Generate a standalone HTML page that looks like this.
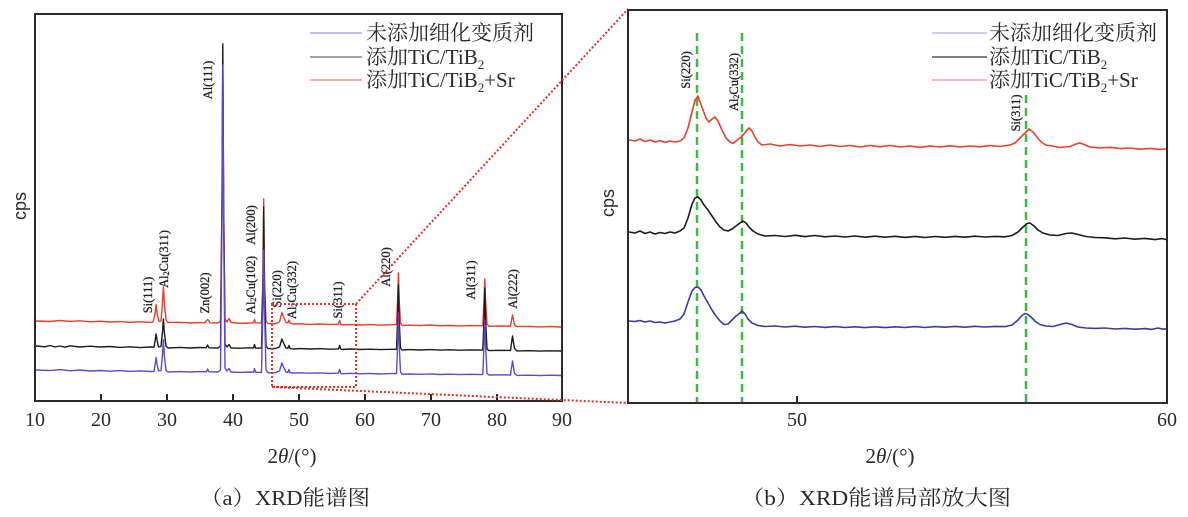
<!DOCTYPE html>
<html>
<head>
<meta charset="utf-8">
<style>
html,body{margin:0;padding:0;background:#fff;}
svg{display:block;}
</style>
</head>
<body>
<svg width="1188" height="517" viewBox="0 0 1188 517" xmlns="http://www.w3.org/2000/svg">
<rect x="0" y="0" width="1188" height="517" fill="#fff"/>

<!-- ================= LEFT PLOT ================= -->
<g fill="none" stroke-linejoin="round" stroke-linecap="round">
<!-- red -->
<path stroke="#ee3b2b" stroke-width="1.4" d="M36,321 L50,321.5 L60,320.5 L70,321.4 L80,320.8 L90,321.8 L100,321.2 L110,322 L120,321.6 L130,322.3 L140,321.8 L150,322.4 L153,322 L155,314 L156.1,304.5 L157.2,314 L159,321.5 L161,321 L162.3,305 L163.4,287 L164.5,305 L166,320 L168,322.5 L180,322.3 L190,323 L200,322.6 L205,322.8 L206.5,320.5 L207.6,319.5 L208.7,320.5 L210,322.8 L218,323 L220.5,321 L222,200 L222.8,57 L223.6,200 L225,319 L227,322 L229,318.5 L231,322.5 L240,323.3 L250,323 L253.5,322.8 L254.5,319.5 L255.5,322.8 L261.5,323 L262.9,280 L263.7,199 L264.5,280 L266,321 L268,323.5 L275,323.8 L279.5,322 L281.9,312.5 L284,318 L286,322.5 L287.8,323 L288.9,320 L290,323 L293,324 L300,323.8 L310,324.4 L320,324 L330,324.6 L338.5,324.2 L339.6,320.5 L340.7,324.2 L342,325 L350,324.6 L360,325 L370,324.6 L380,325.2 L390,324.8 L396.5,324.5 L397.6,300 L398.4,273 L399.2,300 L400.5,323 L402,325.5 L410,325.2 L420,325.6 L430,325 L440,325.8 L450,325.5 L460,325.9 L470,325.6 L482.8,325.8 L484,300 L484.8,279 L485.6,300 L487,324 L489,326.3 L500,326 L510.5,326.2 L512.5,315 L514.5,325 L517,326.6 L530,326.4 L540,326.9 L550,326.5 L561,327"/>
<!-- black -->
<path stroke="#1c1c1c" stroke-width="1.4" d="M36,346 L45,346.8 L50,345.5 L55,347 L60,346 L65,347.2 L70,345.8 L80,347 L90,346.2 L100,347 L110,346.5 L120,347.4 L130,346.8 L140,347.6 L150,347 L154,347.2 L155.2,340 L156.1,334 L157,340 L158.5,347 L161,346.5 L162.4,333 L163.4,319 L164.4,333 L166,346 L168,348 L180,347.4 L190,348 L200,347.5 L206.3,347.7 L207.6,345 L208.9,347.8 L218,348 L220.5,346 L222,200 L222.8,44 L223.6,200 L225,344 L227,347 L229,344.5 L231,348 L240,348.2 L250,347.8 L253.5,348 L254.5,344.5 L255.5,348 L261.5,348.2 L262.9,290 L263.7,207 L264.5,290 L266,346 L268,348.6 L275,348.6 L279.5,347 L281.9,339 L284,344 L286,348 L287.8,348.4 L288.9,345.5 L290,348.4 L293,349 L300,348.6 L310,349 L320,348.7 L330,349.2 L338.5,348.9 L339.6,345.5 L340.7,349 L342,349.5 L350,349 L360,349.5 L370,349.2 L380,349.6 L390,349.3 L396.5,349.3 L397.6,320 L398.4,285 L399.2,320 L400.5,348 L402,350 L410,349.6 L420,350 L430,349.6 L440,350.1 L450,349.8 L460,350.2 L470,349.9 L482.8,350.1 L484,320 L484.8,288 L485.6,320 L487,349 L489,350.6 L500,350.3 L510.5,350.5 L512.5,336 L514.5,348.5 L517,350.9 L530,350.7 L540,351.1 L550,350.8 L561,351"/>
<!-- blue -->
<path stroke="#5a4ccc" stroke-width="1.4" d="M36,370 L50,370.6 L60,369.6 L70,370.8 L80,370 L90,371 L100,370.5 L110,371.2 L120,370.6 L130,371.4 L140,370.9 L150,371.5 L154,371.4 L155.2,364 L156.1,357.5 L157,364 L158.5,371 L161,370.5 L162.4,356 L163.4,340 L164.4,356 L166,370.5 L168,372 L180,371.6 L190,372 L200,371.6 L206.3,371.8 L207.6,369 L208.9,371.8 L218,372 L220.5,370 L222,220 L222.8,65 L223.6,220 L225,368 L227,371 L229,368.5 L231,372 L240,372.4 L250,372 L253.5,372.2 L254.5,368.5 L255.5,372.2 L261.5,372.4 L262.9,310 L263.7,250 L264.5,310 L266,370 L268,372.8 L275,372.8 L279.5,371 L281.9,363 L284,368 L286,372 L287.8,372.6 L288.9,369.5 L290,372.6 L293,373 L300,372.8 L310,373.2 L320,372.9 L330,373.4 L338.5,373.1 L339.6,369.5 L340.7,373.2 L342,373.8 L350,373.3 L360,373.8 L370,373.4 L380,374 L390,373.6 L396.5,373.6 L397.6,345 L398.4,313 L399.2,345 L400.5,372 L402,374.2 L410,374 L420,374.3 L430,373.9 L440,374.5 L450,374.2 L460,374.6 L470,374.3 L482.8,374.6 L484,345 L484.8,320 L485.6,345 L487,373.5 L489,375 L500,374.8 L510.5,375 L512.5,361 L514.5,373.5 L517,375.4 L530,375.2 L540,375.6 L550,375.2 L561,375.5"/>
</g>

<!-- left frame -->
<rect x="35" y="14" width="527" height="387" fill="none" stroke="#2a2a2a" stroke-width="2"/>
<g stroke="#2a2a2a" stroke-width="2">
<line x1="101" y1="401" x2="101" y2="394"/>
<line x1="167" y1="401" x2="167" y2="394"/>
<line x1="233" y1="401" x2="233" y2="394"/>
<line x1="299" y1="401" x2="299" y2="394"/>
<line x1="365" y1="401" x2="365" y2="394"/>
<line x1="431" y1="401" x2="431" y2="394"/>
<line x1="497" y1="401" x2="497" y2="394"/>
</g>
<g font-family="'Liberation Serif','Noto Serif CJK SC',serif" font-size="20" fill="#2a2a2a" text-anchor="middle">
<text x="35" y="426">10</text>
<text x="101" y="426">20</text>
<text x="167" y="426">30</text>
<text x="233" y="426">40</text>
<text x="299" y="426">50</text>
<text x="365" y="426">60</text>
<text x="431" y="426">70</text>
<text x="497" y="426">80</text>
<text x="562" y="426">90</text>
<text x="292" y="463" font-size="21">2<tspan font-style="italic">θ</tspan>/(°)</text>
<text x="285" y="505" font-size="21" textLength="170" lengthAdjust="spacingAndGlyphs">（a）XRD能谱图</text>
</g>
<text transform="translate(20,206) rotate(-90)" font-family="'Liberation Sans',sans-serif" font-size="18" fill="#2a2a2a" text-anchor="middle" dominant-baseline="central">cps</text>

<!-- left peak labels -->
<g font-family="'Liberation Serif',serif" font-size="12.5" fill="#222" stroke="#222" stroke-width="0.3" text-anchor="middle" dominant-baseline="central">
<text transform="translate(148,295) rotate(-90)">Si(111)</text>
<text transform="translate(164,259) rotate(-90)">Al<tspan font-size="8" dy="2">2</tspan><tspan dy="-2">Cu(311)</tspan></text>
<text transform="translate(205,293) rotate(-90)">Zn(002)</text>
<text transform="translate(208,80) rotate(-90)">Al(111)</text>
<text transform="translate(251,285) rotate(-90)">Al<tspan font-size="8" dy="2">2</tspan><tspan dy="-2">Cu(102)</tspan></text>
<text transform="translate(251,225) rotate(-90)">Al(200)</text>
<text transform="translate(277,289) rotate(-90)">Si(220)</text>
<text transform="translate(292,290) rotate(-90)">Al<tspan font-size="8" dy="2">2</tspan><tspan dy="-2">Cu(332)</tspan></text>
<text transform="translate(338,300) rotate(-90)">Si(311)</text>
<text transform="translate(386,267) rotate(-90)">Al(220)</text>
<text transform="translate(471,280) rotate(-90)">Al(311)</text>
<text transform="translate(513,289) rotate(-90)">Al(222)</text>
</g>

<!-- left legend -->
<g stroke-width="1.2">
<line x1="310" y1="33" x2="362" y2="33" stroke="#a898d8"/>
<line x1="310" y1="57" x2="362" y2="57" stroke="#7a6666"/>
<line x1="310" y1="80" x2="362" y2="80" stroke="#ee7a6a"/>
</g>
<g font-family="'Liberation Serif','Noto Serif CJK SC',serif" font-size="21" fill="#2a2a2a">
<text x="366" y="40">未添加细化变质剂</text>
<text x="366" y="64">添加TiC/TiB<tspan font-size="13" dy="5">2</tspan></text>
<text x="366" y="87">添加TiC/TiB<tspan font-size="13" dy="5">2</tspan><tspan dy="-5">+Sr</tspan></text>
</g>

<!-- zoom rectangle & connectors -->
<g fill="none" stroke="#e83020" stroke-width="2" stroke-dasharray="2 2">
<rect x="272" y="304" width="84" height="83"/>
<line x1="356" y1="304" x2="628" y2="9"/>
<line x1="272" y1="387" x2="628" y2="403"/>
</g>

<!-- ================= RIGHT PLOT ================= -->
<!-- green dashed guides -->
<g stroke="#3dbb3d" stroke-width="2.5" stroke-dasharray="8 5">
<line x1="697" y1="33" x2="697" y2="402"/>
<line x1="742" y1="33" x2="742" y2="402"/>
<line x1="1026" y1="95" x2="1026" y2="402"/>
</g>

<g fill="none" stroke-linejoin="round" stroke-linecap="round" stroke-width="1.6">
<path stroke="#e8402c" d="M629,140 L635,141 L640,139 L645,141.5 L650,140 L655,142 L660,140.5 L665,142.5 L670,141 L675,142 L680,141 L684,138 L688,128 L692,112 L695,100 L698,96 L700,102 L703,110 L706,118 L709,122 L712,119 L715,117 L718,121 L722,130 L726,138 L730,142 L733,143.5 L736,141 L740,138 L744,134 L747,130 L749,128 L752,131 L755,137 L758,142 L762,145 L770,144 L780,146 L790,144.5 L800,146 L810,145 L820,146.5 L830,145 L840,146.5 L850,145.5 L860,147 L870,145.5 L880,146.8 L890,145.5 L900,147 L910,146 L920,147.3 L930,146 L940,147 L950,145.8 L960,147 L970,146 L980,146.8 L990,145.6 L1000,146.5 L1010,145 L1015,143 L1020,138 L1025,133 L1029,129 L1033,132 L1037,137 L1041,142 L1046,145 L1052,146 L1060,147.5 L1070,146.5 L1076,144 L1080,143 L1084,144.5 L1090,147 L1100,148 L1110,147.3 L1120,148.6 L1130,148 L1140,149.2 L1150,148.4 L1160,149.4 L1166,149"/>
<path stroke="#1c1c1c" d="M629,232 L635,233 L640,231 L645,233.5 L650,232 L655,234 L660,232.5 L665,233.5 L670,232 L675,233 L680,231 L684,228 L688,218 L692,204 L695,198 L698,197 L701,200 L704,205 L708,210 L712,216 L716,222 L720,227 L724,230 L728,231 L732,229 L736,226 L740,223 L743,221 L746,223 L749,227 L753,231 L758,234 L765,236 L775,235.5 L785,236.5 L795,235.3 L805,236.6 L815,235.5 L825,236.8 L835,236 L845,237 L855,236 L865,237.2 L875,236.2 L885,237.2 L895,236.3 L905,237.4 L915,236.4 L925,237.5 L935,236.5 L945,237.3 L955,236.4 L965,237.2 L975,236.2 L985,237 L995,236.4 L1005,236.8 L1012,235.5 L1018,232 L1023,227 L1027,223.5 L1030,223 L1034,226 L1038,230 L1043,233 L1050,235 L1058,235.5 L1066,233.5 L1072,233 L1078,234.5 L1086,236.5 L1095,237.5 L1105,237.8 L1115,238.8 L1125,238 L1135,239.2 L1145,238.4 L1155,239.6 L1162,238.6 L1166,239.5"/>
<path stroke="#3b3ba5" d="M629,321 L635,321.5 L640,320.5 L645,322 L650,321 L655,322.5 L660,322 L665,323 L670,322 L675,321 L680,319 L684,314 L688,302 L692,291 L695,287.5 L698,287 L701,290 L704,296 L708,303 L712,310 L716,316 L720,321 L724,324.5 L728,324 L732,320 L736,316 L740,313 L742,311 L745,314 L748,319 L752,323 L758,325.5 L765,326.5 L775,326 L785,327 L795,326.2 L805,327.2 L815,326.5 L825,327.4 L835,326.6 L845,327.5 L855,326.8 L865,327.6 L875,326.8 L885,327.6 L895,326.8 L905,327.5 L915,326.6 L925,327.5 L935,326.6 L945,327.2 L955,326.4 L965,327.2 L975,326.3 L985,327 L995,326.4 L1005,326.6 L1012,325 L1018,320 L1022,315.5 L1025,313.5 L1028,314.5 L1032,318 L1036,322 L1040,324.5 L1046,326 L1053,326.5 L1060,324.5 L1066,323 L1072,324.5 L1078,327 L1086,328 L1095,328.4 L1105,328 L1115,329 L1125,328.4 L1135,329.2 L1145,328.6 L1152,329.4 L1158,328 L1163,329.2 L1166,328.8"/>
</g>

<!-- right frame -->
<rect x="628" y="10" width="539" height="393" fill="none" stroke="#2a2a2a" stroke-width="2"/>
<line x1="797" y1="403" x2="797" y2="396" stroke="#2a2a2a" stroke-width="2"/>
<g font-family="'Liberation Serif','Noto Serif CJK SC',serif" font-size="20" fill="#2a2a2a" text-anchor="middle">
<text x="797" y="426">50</text>
<text x="1167" y="426">60</text>
<text x="890" y="463" font-size="21">2<tspan font-style="italic">θ</tspan>/(°)</text>
<text x="876" y="505" font-size="21" textLength="270" lengthAdjust="spacingAndGlyphs">（b）XRD能谱局部放大图</text>
</g>
<text transform="translate(608,203) rotate(-90)" font-family="'Liberation Sans',sans-serif" font-size="18" fill="#2a2a2a" text-anchor="middle" dominant-baseline="central">cps</text>

<g font-family="'Liberation Serif',serif" font-size="12.5" fill="#222" stroke="#222" stroke-width="0.3" text-anchor="middle" dominant-baseline="central">
<text transform="translate(686,70) rotate(-90)">Si(220)</text>
<text transform="translate(734,82) rotate(-90)">Al<tspan font-size="8" dy="2">2</tspan><tspan dy="-2">Cu(332)</tspan></text>
<text transform="translate(1016,113) rotate(-90)">Si(311)</text>
</g>

<!-- right legend -->
<g stroke-width="1.3">
<line x1="932" y1="33" x2="987" y2="33" stroke="#b8aee0"/>
<line x1="932" y1="57" x2="987" y2="57" stroke="#333"/>
<line x1="932" y1="80" x2="987" y2="80" stroke="#f09a88"/>
</g>
<g font-family="'Liberation Serif','Noto Serif CJK SC',serif" font-size="21" fill="#2a2a2a">
<text x="989" y="40">未添加细化变质剂</text>
<text x="989" y="64">添加TiC/TiB<tspan font-size="13" dy="5">2</tspan></text>
<text x="989" y="87">添加TiC/TiB<tspan font-size="13" dy="5">2</tspan><tspan dy="-5">+Sr</tspan></text>
</g>
</svg>
</body>
</html>
